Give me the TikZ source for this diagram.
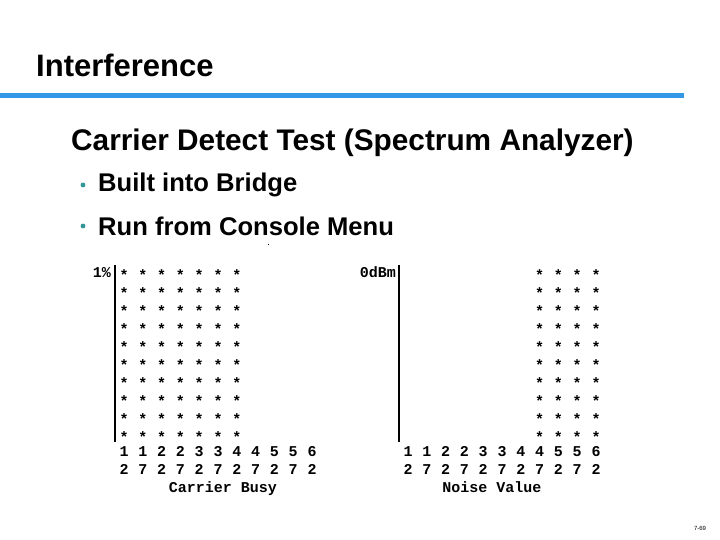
\documentclass[tikz,border=0pt]{standalone}
\usepackage{fontspec}
\setmainfont{Liberation Sans}
\newfontfamily\monofont{Liberation Mono}
\definecolor{accent}{RGB}{51,153,230}
\definecolor{teal2}{RGB}{51,150,150}
\begin{document}
\begin{tikzpicture}[x=1pt,y=-1pt,
  title/.style={anchor=west,inner sep=0pt,font=\bfseries\fontsize{31}{32}\selectfont},
  head/.style={anchor=west,inner sep=0pt,font=\bfseries\fontsize{29.8}{31}\selectfont},
  bul/.style={anchor=west,inner sep=0pt,font=\bfseries\fontsize{25.6}{27}\selectfont},
  mono/.style={font=\monofont\bfseries\fontsize{15}{15}\selectfont,inner sep=0pt,text height=8pt,text depth=0pt},
  bar/.style={line width=2.4pt}]
\useasboundingbox (0,0) rectangle (720,540);
\fill[white] (0,0) rectangle (720,540);
\node[title] (t) at (36,65) {Interference};
\fill[accent] (0,93.5) rectangle (684,98.5);
\node[head] (h) at (71,143) {Carrier Detect Test (Spectrum Analyzer)};
\fill[teal2] (83,185) circle (2.4);
\node[bul] (b1) at (98,185) {Built into Bridge};
\fill[teal2] (83,226) circle (2.4);
\node[bul] (b2) at (98,226) {Run from Console Menu};
\fill (267.5,243.5) rectangle (269,245);
% left chart
\node[mono,anchor=east] (l1) at (111,273) {1\%};
\draw[bar] (115,265) -- (115,442);
\foreach \i in {0,...,6}{\foreach \j in {0,...,9}{
  \node[mono] (a\i\j) at (124+18.8*\i,276+18*\j) {*};}}
\foreach \t [count=\i from 0] in {1/2,1/7,2/2,2/7,3/2,3/7,4/2,4/7,5/2,5/7,6/2}{
  \pgfmathsetmacro\xx{124+18.8*\i}
  \foreach \p/\q in \t {
  \node[mono] (lt\i) at (\xx,452) {\p};
  \node[mono] (lb\i) at (\xx,470) {\q};}}
\node[mono] (lx) at (223,488) {Carrier Busy};
% right chart
\node[mono,anchor=east] (r1) at (396,273) {0dBm};
\draw[bar] (399,265) -- (399,442);
\foreach \i in {7,...,10}{\foreach \j in {0,...,9}{
  \node[mono] (b\i\j) at (408+18.8*\i,276+18*\j) {*};}}
\foreach \t [count=\i from 0] in {1/2,1/7,2/2,2/7,3/2,3/7,4/2,4/7,5/2,5/7,6/2}{
  \pgfmathsetmacro\xx{408+18.8*\i}
  \foreach \p/\q in \t {
  \node[mono] (rt\i) at (\xx,452) {\p};
  \node[mono] (rb\i) at (\xx,470) {\q};}}
\node[mono] (rx) at (492,488) {Noise Value};
\node[font=\fontsize{6}{6}\selectfont] (pg) at (700,528) {7-69};
\end{tikzpicture}
\end{document}
